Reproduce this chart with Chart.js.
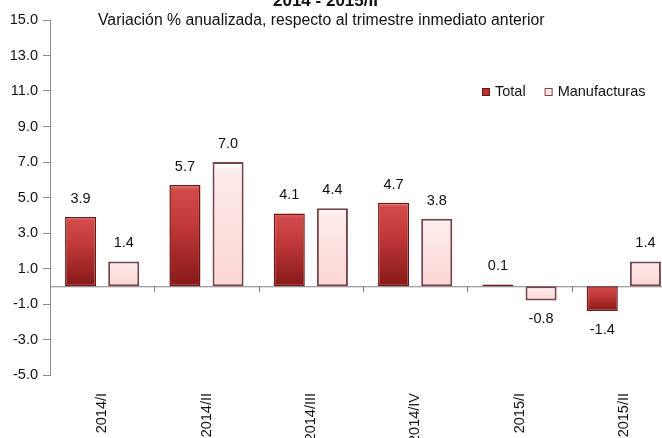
<!DOCTYPE html>
<html>
<head>
<meta charset="utf-8">
<script src="https://cdn.jsdelivr.net/npm/chart.js@4/dist/chart.umd.min.js"></script>
<style>
  html, body { margin: 0; padding: 0; background: #fff; overflow: hidden; }
  canvas { display: block; }
</style>
</head>
<body>
<canvas id="chart" width="680" height="450"></canvas>
<script>
const quarters = ['2014/I', '2014/II', '2014/III', '2014/IV', '2015/I', '2015/II']
const totalValues = [3.9, 5.7, 4.1, 4.7, 0.1, -1.4]
const manufValues = [1.4, 7.0, 4.4, 3.8, -0.8, 1.4]
const seriesNames = ['Total', 'Manufacturas']

const titleText = '2014 - 2015/II'
const subtitleText = 'Variación % anualizada, respecto al trimestre inmediato anterior'

const FONT = '"Liberation Sans", Arial, sans-serif'
const axisGray = '#8f8f8f'

// vertical gradient per bar, from the bar's own top to bottom
function barGradient(ctx, stops, flat) {
    const chart = ctx.chart
    if (ctx.type !== 'data' || !chart.chartArea) return flat
    const y = chart.scales.y
    const v = ctx.raw
    const top = y.getPixelForValue(Math.max(v, 0))
    const bottom = y.getPixelForValue(Math.min(v, 0))
    if (bottom - top < 2) return flat
    const g = chart.ctx.createLinearGradient(0, top, 0, bottom)
    stops.forEach(s => g.addColorStop(s[0], s[1]))
    return g
}

const redStops = [[0, '#ea7070'], [0.05, '#d24a4a'], [0.4, '#c13838'], [1, '#861818']]
const pinkStops = [[0, '#ffffff'], [0.08, '#fdeceb'], [1, '#fbd6d3']]

const zeroLine = {
    id: 'zeroLine',
    beforeDatasetsDraw(chart) {
        const c = chart.ctx
        const x = chart.scales.x
        const y0 = chart.scales.y.getPixelForValue(0)
        c.save()
        c.strokeStyle = '#7f7f7f'
        c.lineWidth = 1
        c.beginPath()
        c.moveTo(chart.chartArea.left, y0 + 0.5)
        c.lineTo(chart.chartArea.right, y0 + 0.5)
        for (let i = 1; i < quarters.length; i++) {
            const px = Math.round(x.getPixelForValue(i - 0.5)) + 0.5
            c.moveTo(px, y0)
            c.lineTo(px, y0 + 6)
        }
        c.stroke()
        c.restore()
    }
}

const valueLabels = {
    id: 'valueLabels',
    afterDatasetsDraw(chart) {
        const c = chart.ctx
        c.save()
        c.font = '14.5px ' + FONT
        c.fillStyle = '#111'
        c.textAlign = 'center'
        c.textBaseline = 'middle'
        chart.data.datasets.forEach((ds, i) => {
            chart.getDatasetMeta(i).data.forEach((bar, j) => {
                const v = ds.data[j]
                const ty = v >= 0 ? bar.y - 18 : bar.y + 19
                c.fillText(v.toFixed(1), bar.x, ty)
            })
        })
        c.restore()
    }
}

const headerAndLegend = {
    id: 'headerAndLegend',
    afterDraw(chart) {
        const c = chart.ctx
        c.save()
        c.fillStyle = '#111'
        c.textBaseline = 'alphabetic'
        c.font = 'bold 17px ' + FONT
        c.fillText(titleText, 273, 6)
        c.font = '15.8px ' + FONT
        c.fillText(subtitleText, 98, 25)

        // legend
        const fills = ['#b83232', '#fde2e0']
        const borders = ['#6e1414', '#7d4a4e']
        let lx = 482
        const ly = 92
        c.font = '14.5px ' + FONT
        c.textBaseline = 'middle'
        seriesNames.forEach((name, i) => {
            c.fillStyle = fills[i]
            c.fillRect(lx, ly - 4, 8, 8)
            c.strokeStyle = borders[i]
            c.lineWidth = 1
            c.strokeRect(lx + 0.5, ly - 3.5, 7, 7)
            c.fillStyle = '#111'
            c.fillText(name, lx + 13, ly)
            lx += 13 + c.measureText(name).width + 19
        })
        c.restore()
    }
}

const ctx = document.getElementById('chart')

var myChart = new Chart(ctx, {
    type: 'bar',
    data: {
        labels: quarters,
        datasets: [{
            label: seriesNames[0],
            data: totalValues,
            backgroundColor: (c) => barGradient(c, redStops, '#b83232'),
            borderColor: '#6e1515',
            borderWidth: 1.5,
            borderSkipped: false,
            barPercentage: 0.72,
            categoryPercentage: 0.827
        }, {
            label: seriesNames[1],
            data: manufValues,
            backgroundColor: (c) => barGradient(c, pinkStops, '#fde2e0'),
            borderColor: '#74444a',
            borderWidth: 2,
            borderSkipped: false,
            barPercentage: 0.72,
            categoryPercentage: 0.827
        }]
    },
    options: {
        responsive: false,
        animation: false,
        layout: {
            padding: { left: 0, right: 4, top: 20, bottom: 0 }
        },
        plugins: {
            legend: { display: false },
            tooltip: { enabled: false }
        },
        scales: {
            x: {
                grid: { display: false },
                border: { display: false },
                ticks: {
                    minRotation: 90,
                    maxRotation: 90,
                    padding: 10,
                    color: '#111',
                    font: { family: FONT, size: 14.5 }
                },
                afterFit: (s) => { s.height = 75 }
            },
            y: {
                min: -5,
                max: 15,
                grid: {
                    drawOnChartArea: false,
                    drawTicks: true,
                    tickLength: 7,
                    color: axisGray
                },
                border: { display: true, color: axisGray },
                ticks: {
                    stepSize: 2,
                    padding: 5,
                    color: '#111',
                    font: { family: FONT, size: 14.5 },
                    callback: (v) => v.toFixed(1)
                },
                afterFit: (s) => { s.width = 50 }
            }
        }
    },
    plugins: [zeroLine, valueLabels, headerAndLegend]
})
</script>
</body>
</html>
